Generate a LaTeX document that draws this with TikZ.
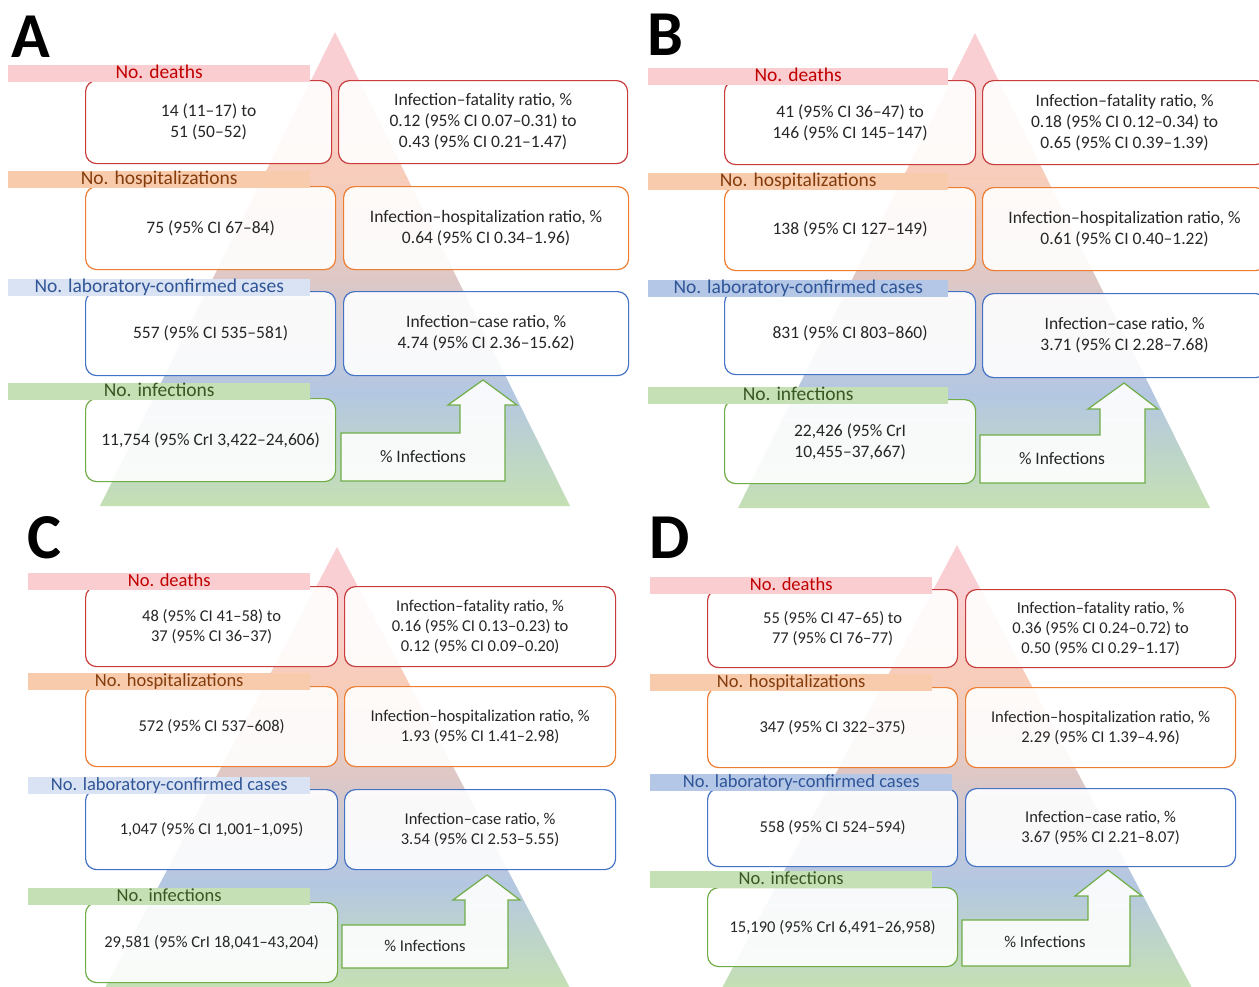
\documentclass[tikz,border=0pt]{standalone}
\usepackage{fontspec}
\setmainfont{Carlito}
\usepackage{tikz}
\usetikzlibrary{positioning}
\definecolor{ink}{RGB}{38,38,38}
\definecolor{ppink}{RGB}{250,207,211}
\definecolor{ppeach}{RGB}{248,205,186}
\definecolor{pmauve}{RGB}{222,200,198}
\definecolor{pblue}{RGB}{180,199,226}
\definecolor{pgreen}{RGB}{197,224,180}
\definecolor{bred}{RGB}{200,60,60}
\definecolor{borange}{RGB}{237,125,49}
\definecolor{bblue}{RGB}{68,114,196}
\definecolor{bgreen}{RGB}{112,173,71}
\definecolor{dfill}{RGB}{250,205,209}
\definecolor{hfill}{RGB}{248,203,173}
\definecolor{clight}{RGB}{218,227,243}
\definecolor{cmid}{RGB}{180,199,231}
\definecolor{ifill}{RGB}{197,224,180}
\definecolor{dtext}{RGB}{192,0,0}
\definecolor{htext}{RGB}{132,60,12}
\definecolor{ctext}{RGB}{47,85,151}
\definecolor{itext}{RGB}{56,87,35}
\pgfdeclareverticalshading{pyramid}{100bp}{color(0bp)=(pgreen); color(25bp)=(pgreen); color(37bp)=(pblue); color(49bp)=(pmauve); color(60bp)=(ppeach); color(70bp)=(ppink); color(100bp)=(ppink)}
\newcommand{\boxsz}{17.5}
\newcommand{\boxsk}{21}
\newcommand{\barsz}{19.5}

\begin{document}
\begin{tikzpicture}[x=1pt, y=-1pt,
  box/.style={draw=#1, rounded corners=11pt, fill=white, fill opacity=0.9, text opacity=1, line width=1.2pt, inner sep=0pt, align=center, text=ink, anchor=north west, font=\fontsize{\boxsz}{\boxsk}\selectfont},
  bar/.style={inner sep=0pt, minimum height=17pt, text height=13pt, text depth=4pt, anchor=north west, font=\fontsize{\barsz}{\barsz}\selectfont},
  dbar/.style={bar, fill=dfill, text=dtext},
  hbar/.style={bar, fill=hfill, text=htext},
  cbar/.style={bar, fill=#1, text=ctext},
  ibar/.style={bar, fill=ifill, text=itext},
  letter/.style={anchor=base west, inner sep=0pt, font=\bfseries\fontsize{64}{64}\selectfont},
  uparrow/.style={draw=bgreen, fill=white, fill opacity=0.9, line width=1.2pt},
  note/.style={inner sep=0pt, text=ink, font=\fontsize{\boxsz}{\boxsk}\selectfont}]
  \fill[white, use as bounding box] (0,0) rectangle (1259,986);

  \node[letter] (labA) at (11,57) {A};
  \shade[shading=pyramid] (335,32) -- (570,506) -- (100,506) -- cycle;
  \node[box=bred, minimum width=246pt, minimum height=83pt] (Adeath) at (85,80) {14 (11–17) to\\51 (50–52)};
  \node[box=bred, minimum width=289pt, minimum height=83pt] (Aifr) at (338,80) {Infection–fatality ratio, \%\\0.12 (95\% CI 0.07–0.31) to\\0.43 (95\% CI 0.21–1.47)};
  \node[box=borange, minimum width=250pt, minimum height=83pt] (Ahosp) at (85,186) {75 (95\% CI 67–84)};
  \node[box=borange, minimum width=285pt, minimum height=83pt] (Aihr) at (343,186) {Infection–hospitalization ratio, \%\\0.64 (95\% CI 0.34–1.96)};
  \node[box=bblue, minimum width=250pt, minimum height=84pt] (Acase) at (85,291) {557 (95\% CI 535–581)};
  \node[box=bblue, minimum width=285pt, minimum height=84pt] (Aicr) at (343,291) {Infection–case ratio, \%\\4.74 (95\% CI 2.36–15.62)};
  \node[box=bgreen, minimum width=250pt, minimum height=83pt] (Ainf) at (85,398) {11,754 (95\% CrI 3,422–24,606)};
  \node[dbar, minimum width=302pt] (Adbar) at (8,65) {No. deaths};
  \node[hbar, minimum width=302pt] (Ahbar) at (8,171) {No. hospitalizations};
  \node[cbar=clight, minimum width=302pt] (Acbar) at (8,279) {No. laboratory-confirmed cases};
  \node[ibar, minimum width=302pt] (Aibar) at (8,383) {No. infections};
  \draw[uparrow] (341,433) -- (460,433) -- (460,405) -- (448,405) -- (483,380) -- (517,405) -- (505,405) -- (505,481) -- (341,481) -- cycle;
  \node[note] (Apct) at (423,457) {\% Infections};

  \node[letter] (labB) at (647,55) {B};
  \shade[shading=pyramid] (975,33) -- (1210,508) -- (738,508) -- cycle;
  \node[box=bred, minimum width=251pt, minimum height=84pt] (Bdeath) at (724,80) {41 (95\% CI 36–47) to\\146 (95\% CI 145–147)};
  \node[box=bred, minimum width=284pt, minimum height=84pt] (Bifr) at (982,80) {Infection–fatality ratio, \%\\0.18 (95\% CI 0.12–0.34) to\\0.65 (95\% CI 0.39–1.39)};
  \node[box=borange, minimum width=251pt, minimum height=83pt] (Bhosp) at (724,187) {138 (95\% CI 127–149)};
  \node[box=borange, minimum width=284pt, minimum height=83pt] (Bihr) at (982,187) {Infection–hospitalization ratio, \%\\0.61 (95\% CI 0.40–1.22)};
  \node[box=bblue, minimum width=251pt, minimum height=83pt] (Bcase) at (724,291) {831 (95\% CI 803–860)};
  \node[box=bblue, minimum width=284pt, minimum height=84pt] (Bicr) at (982,293) {Infection–case ratio, \%\\3.71 (95\% CI 2.28–7.68)};
  \node[box=bgreen, minimum width=251pt, minimum height=84pt] (Binf) at (724,399) {22,426 (95\% CrI\\10,455–37,667)};
  \node[dbar, minimum width=300pt] (Bdbar) at (648,68) {No. deaths};
  \node[hbar, minimum width=300pt] (Bhbar) at (648,173) {No. hospitalizations};
  \node[cbar=cmid, minimum width=300pt] (Bcbar) at (648,280) {No. laboratory-confirmed cases};
  \node[ibar, minimum width=300pt] (Bibar) at (648,387) {No. infections};
  \draw[uparrow] (980,435) -- (1100,435) -- (1100,409) -- (1088,409) -- (1124,383) -- (1158,409) -- (1145,409) -- (1145,483) -- (980,483) -- cycle;
  \node[note] (Bpct) at (1062,459) {\% Infections};

  \begin{scope}
  \renewcommand{\boxsz}{16.5}\renewcommand{\boxsk}{20}\renewcommand{\barsz}{18.5}
  \node[letter] (labC) at (27,558) {C};
  \shade[shading=pyramid] (337,547) -- (570,988) -- (105,988) -- cycle;
  \node[box=bred, minimum width=252pt, minimum height=80pt] (Cdeath) at (85,586) {48 (95\% CI 41–58) to\\37 (95\% CI 36–37)};
  \node[box=bred, minimum width=271pt, minimum height=80pt] (Cifr) at (344,586) {Infection–fatality ratio, \%\\0.16 (95\% CI 0.13–0.23) to\\0.12 (95\% CI 0.09–0.20)};
  \node[box=borange, minimum width=252pt, minimum height=80pt] (Chosp) at (85,686) {572 (95\% CI 537–608)};
  \node[box=borange, minimum width=271pt, minimum height=80pt] (Cihr) at (344,686) {Infection–hospitalization ratio, \%\\1.93 (95\% CI 1.41–2.98)};
  \node[box=bblue, minimum width=252pt, minimum height=80pt] (Ccase) at (85,789) {1,047 (95\% CI 1,001–1,095)};
  \node[box=bblue, minimum width=271pt, minimum height=80pt] (Cicr) at (344,789) {Infection–case ratio, \%\\3.54 (95\% CI 2.53–5.55)};
  \node[box=bgreen, minimum width=252pt, minimum height=80pt] (Cinf) at (85,902) {29,581 (95\% CrI 18,041–43,204)};
  \node[dbar, minimum width=282pt] (Cdbar) at (28,573) {No. deaths};
  \node[hbar, minimum width=282pt] (Chbar) at (28,673) {No. hospitalizations};
  \node[cbar=clight, minimum width=282pt] (Ccbar) at (28,777) {No. laboratory-confirmed cases};
  \node[ibar, minimum width=282pt] (Cibar) at (28,888) {No. infections};
  \draw[uparrow] (342,925) -- (465,925) -- (465,900) -- (453,900) -- (487,875) -- (520,900) -- (508,900) -- (508,968) -- (342,968) -- cycle;
  \node[note] (Cpct) at (425,946) {\% Infections};

  \node[letter] (labD) at (649,558) {D};
  \shade[shading=pyramid] (957,545) -- (1192,988) -- (722,988) -- cycle;
  \node[box=bred, minimum width=250pt, minimum height=78pt] (Ddeath) at (707,589) {55 (95\% CI 47–65) to\\77 (95\% CI 76–77)};
  \node[box=bred, minimum width=270pt, minimum height=78pt] (Difr) at (965,589) {Infection–fatality ratio, \%\\0.36 (95\% CI 0.24–0.72) to\\0.50 (95\% CI 0.29–1.17)};
  \node[box=borange, minimum width=250pt, minimum height=80pt] (Dhosp) at (707,687) {347 (95\% CI 322–375)};
  \node[box=borange, minimum width=270pt, minimum height=80pt] (Dihr) at (965,687) {Infection–hospitalization ratio, \%\\2.29 (95\% CI 1.39–4.96)};
  \node[box=bblue, minimum width=250pt, minimum height=78pt] (Dcase) at (707,788) {558 (95\% CI 524–594)};
  \node[box=bblue, minimum width=270pt, minimum height=78pt] (Dicr) at (965,788) {Infection–case ratio, \%\\3.67 (95\% CI 2.21–8.07)};
  \node[box=bgreen, minimum width=250pt, minimum height=79pt] (Dinf) at (707,887) {15,190 (95\% CrI 6,491–26,958)};
  \node[dbar, minimum width=282pt] (Ddbar) at (650,577) {No. deaths};
  \node[hbar, minimum width=282pt] (Dhbar) at (650,674) {No. hospitalizations};
  \node[cbar=cmid, minimum width=302pt] (Dcbar) at (650,774) {No. laboratory-confirmed cases};
  \node[ibar, minimum width=282pt] (Dibar) at (650,871) {No. infections};
  \draw[uparrow] (962,920) -- (1088,920) -- (1088,896) -- (1075,896) -- (1108,870) -- (1142,896) -- (1130,896) -- (1130,966) -- (962,966) -- cycle;
  \node[note] (Dpct) at (1045,942) {\% Infections};
  \end{scope}
\end{tikzpicture}
\end{document}
